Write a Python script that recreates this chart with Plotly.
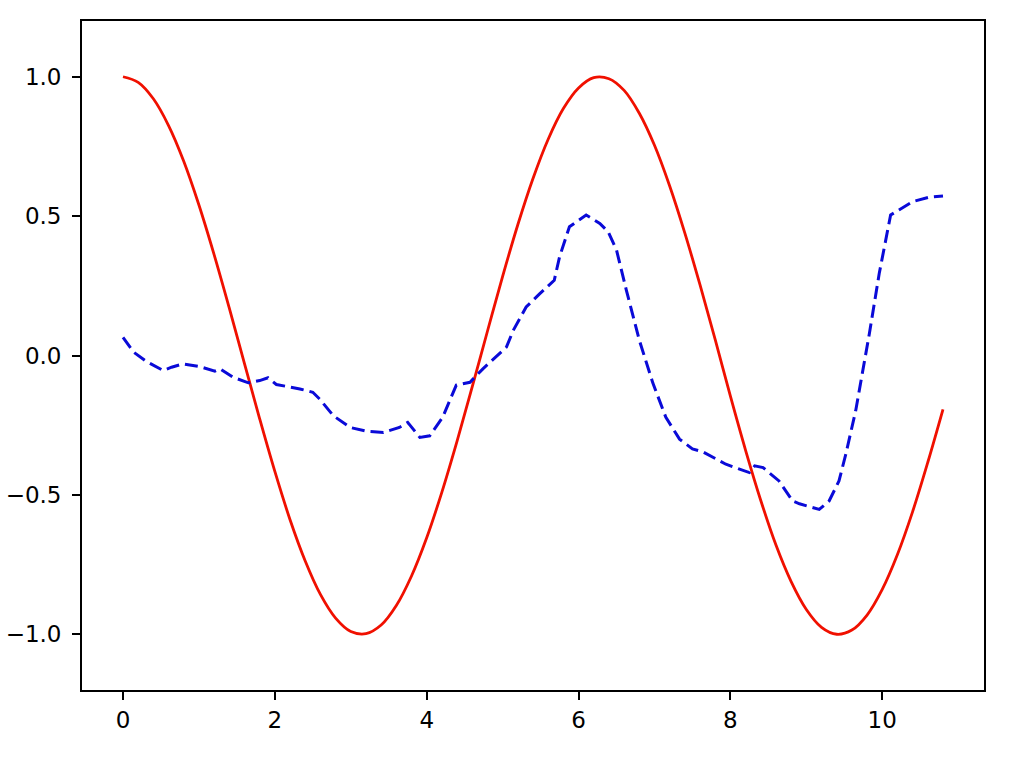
import plotly.graph_objects as go

# red solid curve
red_x = [0.0, 0.2, 0.4, 0.6, 0.8, 1.0, 1.2, 1.4, 1.6, 1.8, 2.0, 2.2, 2.4, 2.6,
         2.8, 3.0, 3.2, 3.4, 3.6, 3.8, 4.0, 4.2, 4.4, 4.6, 4.8, 5.0, 5.2, 5.4,
         5.6, 5.8, 6.0, 6.2, 6.4, 6.6, 6.8, 7.0, 7.2, 7.4, 7.6, 7.8, 8.0, 8.2,
         8.4, 8.6, 8.8, 9.0, 9.2, 9.4, 9.6, 9.8, 10.0, 10.2, 10.4, 10.6, 10.8]
red_y = [1.000, 0.980, 0.921, 0.825, 0.697, 0.540, 0.362, 0.170, -0.029,
         -0.227, -0.416, -0.589, -0.737, -0.857, -0.942, -0.990, -0.998,
         -0.967, -0.897, -0.791, -0.654, -0.490, -0.307, -0.112, 0.087, 0.284,
         0.469, 0.635, 0.776, 0.886, 0.960, 0.997, 0.993, 0.951, 0.869, 0.754,
         0.608, 0.439, 0.253, 0.057, -0.146, -0.340, -0.520, -0.680, -0.811,
         -0.911, -0.975, -1.000, -0.985, -0.931, -0.839, -0.714, -0.560,
         -0.383, -0.193]

# blue dashed curve
blue_x = [0.00, 0.14, 0.30, 0.53, 0.64, 0.79, 1.01, 1.21, 1.28, 1.45, 1.65,
          1.80, 1.91, 2.02, 2.33, 2.50, 2.59, 2.77, 2.99, 3.21, 3.43, 3.64,
          3.75, 3.91, 4.04, 4.21, 4.39, 4.57, 4.74, 5.05, 5.14, 5.31, 5.49,
          5.68, 5.75, 5.88, 6.10, 6.28, 6.39, 6.50, 6.63, 6.80, 6.98, 7.15,
          7.33, 7.50, 7.64, 7.94, 8.25, 8.32, 8.43, 8.64, 8.82, 8.91, 9.17,
          9.30, 9.43, 9.52, 9.65, 9.83, 9.96, 10.05, 10.11, 10.22, 10.40,
          10.62, 10.80]
blue_y = [0.065, 0.012, -0.020, -0.054, -0.042, -0.030, -0.040, -0.056,
          -0.048, -0.078, -0.098, -0.090, -0.080, -0.104, -0.120, -0.132,
          -0.156, -0.216, -0.258, -0.272, -0.276, -0.258, -0.240, -0.294,
          -0.288, -0.222, -0.106, -0.096, -0.048, 0.030, 0.090, 0.174, 0.222,
          0.270, 0.354, 0.462, 0.504, 0.474, 0.444, 0.378, 0.234, 0.055,
          -0.100, -0.222, -0.300, -0.335, -0.346, -0.390, -0.420, -0.396,
          -0.402, -0.450, -0.522, -0.532, -0.552, -0.522, -0.450, -0.354,
          -0.198, 0.078, 0.294, 0.426, 0.504, 0.522, 0.552, 0.568, 0.572]

fig = go.Figure()
fig.add_trace(go.Scatter(
    x=red_x, y=red_y, mode="lines",
    line=dict(color="#f01000", width=2.8, shape="spline", smoothing=1.0),
    showlegend=False,
))
fig.add_trace(go.Scatter(
    x=blue_x, y=blue_y, mode="lines",
    line=dict(color="#0a0ad8", width=3, dash="13px,6px"),
    showlegend=False,
))

axis_style = dict(
    showgrid=False, zeroline=False, automargin=False,
    showline=True, linecolor="black", linewidth=1.8, mirror=True,
    ticks="outside", ticklen=8, tickwidth=1.8, tickcolor="black",
    tickfont=dict(family="DejaVu Sans", size=23, color="black"),
)
fig.update_xaxes(range=[-0.54, 11.34], tickvals=[0, 2, 4, 6, 8, 10], **axis_style)
fig.update_yaxes(range=[-1.2, 1.2], tickvals=[-1.0, -0.5, 0.0, 0.5, 1.0],
                 tickformat=".1f", ticklabelstandoff=6, **axis_style)
fig.update_layout(
    width=1022, height=765,
    margin=dict(l=82, r=38, t=21, b=75),
    plot_bgcolor="white", paper_bgcolor="white",
)
# drop the page's default body margin so the figure sits at the top-left corner
fig.write_html(
    "out.html",
    config={"displayModeBar": False},
    post_script="document.body.style.margin = '0px';",
)
